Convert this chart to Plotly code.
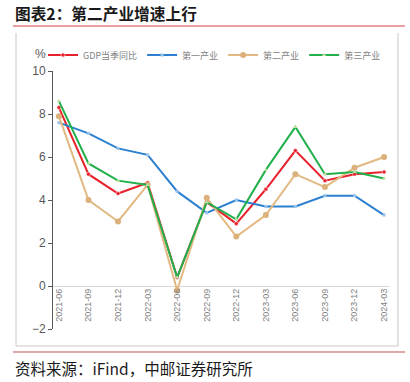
import plotly.graph_objects as go

categories = ["2021-06", "2021-09", "2021-12", "2022-03", "2022-06", "2022-09",
              "2022-12", "2023-03", "2023-06", "2023-09", "2023-12", "2024-03"]
gdp = [8.3, 5.2, 4.3, 4.8, 0.4, 3.9, 2.9, 4.5, 6.3, 4.9, 5.2, 5.3]
primary = [7.6, 7.1, 6.4, 6.1, 4.4, 3.4, 4.0, 3.7, 3.7, 4.2, 4.2, 3.3]
secondary = [7.9, 4.0, 3.0, 4.7, -0.2, 4.1, 2.3, 3.3, 5.2, 4.6, 5.5, 6.0]
tertiary = [8.6, 5.7, 4.9, 4.7, 0.4, 3.9, 3.1, 5.4, 7.4, 5.2, 5.3, 5.0]
series_names = ["GDP当季同比", "第一产业", "第二产业", "第三产业"]
y_ticks = [-2, 0, 2, 4, 6, 8, 10]

W, H = 410, 382
L, R, T, B = 53, 20, 71, 53
pw, ph = W - L - R, H - T - B


def px(x):
    return (x - L) / pw


def py(y):
    return (H - B - y) / ph


FONT = "Noto Sans CJK SC"
fig = go.Figure()
styles = [
    dict(color="#e8222c", marker=dict(symbol="circle", size=4, color="#e8222c",
                                      line=dict(color="white", width=0.5))),
    dict(color="#2b80d0", marker=dict(symbol="square", size=3, color="#9cc3ea")),
    dict(color="#e2b982", marker=dict(symbol="circle", size=6, color="#dcb07a")),
    dict(color="#22b04c", marker=dict(symbol="triangle-up", size=4, color="#c3dfa8")),
]
for name, vals, st in zip(series_names, [gdp, primary, secondary, tertiary], styles):
    fig.add_trace(go.Scatter(
        x=categories, y=vals, name=name, mode="lines+markers",
        line=dict(color=st["color"], width=2), marker=st["marker"],
    ))

fig.update_layout(
    width=W, height=H,
    margin=dict(l=L, r=R, t=T, b=B, pad=0, autoexpand=False),
    paper_bgcolor="white", plot_bgcolor="white",
    font=dict(family=FONT, color="#595959"),
    showlegend=True,
    legend=dict(orientation="h", x=px(43), xanchor="left", y=py(55), yanchor="middle",
                font=dict(size=9, color="#7f7f7f", family=FONT),
                bgcolor="rgba(0,0,0,0)", itemwidth=30, tracegroupgap=0),
    xaxis=dict(type="category", range=[-0.2, 11.2], anchor="free", position=2 / 12,
               showline=False, showgrid=False, ticks="", tickangle=-90, automargin=False,
               tickfont=dict(size=9, color="#7f7f7f", family="Liberation Sans")),
    yaxis=dict(range=[-2, 10], tickvals=y_ticks, showgrid=False, automargin=False,
               zeroline=True, zerolinecolor="#d9d9d9", zerolinewidth=1,
               showline=True, linecolor="#595959", linewidth=1,
               ticks="outside", ticklen=4, tickcolor="#595959",
               tickfont=dict(size=12, color="#595959", family="Liberation Sans")),
)

# title and source
fig.add_annotation(text="<b>图表2：第二产业增速上行</b>", xref="paper", yref="paper",
                   x=px(13), y=py(13), xanchor="left", yanchor="middle", showarrow=False,
                   font=dict(size=15.7, color="#1a1a1a", family=FONT))
fig.add_annotation(text="资料来源：iFind，中邮证券研究所", xref="paper", yref="paper",
                   x=px(13), y=py(368), xanchor="left", yanchor="middle", showarrow=False,
                   font=dict(size=15.5, color="#1a1a1a", family=FONT))
fig.add_annotation(text="%", xref="paper", yref="paper",
                   x=px(40), y=py(54), xanchor="center", yanchor="middle", showarrow=False,
                   font=dict(size=12, color="#595959", family="Liberation Sans"))

# decorative lines
fig.add_shape(type="line", xref="paper", yref="paper", x0=px(13), x1=px(405),
              y0=py(26), y1=py(26), line=dict(color="#e08080", width=1.5))
fig.add_shape(type="line", xref="paper", yref="paper", x0=px(13), x1=px(405),
              y0=py(352), y1=py(352), line=dict(color="#c0504d", width=1.2))
for x0, y0, x1, y1 in [(16, 33, 16, 346), (398, 33, 398, 346), (16, 346, 398, 346)]:
    fig.add_shape(type="line", xref="paper", yref="paper", x0=px(x0), x1=px(x1),
                  y0=py(y0), y1=py(y1), line=dict(color="#c8c8c8", width=1))

fig.write_html("out.html", config={"displayModeBar": False},
               post_script="document.body.style.margin='0';document.body.style.overflow='hidden';")
